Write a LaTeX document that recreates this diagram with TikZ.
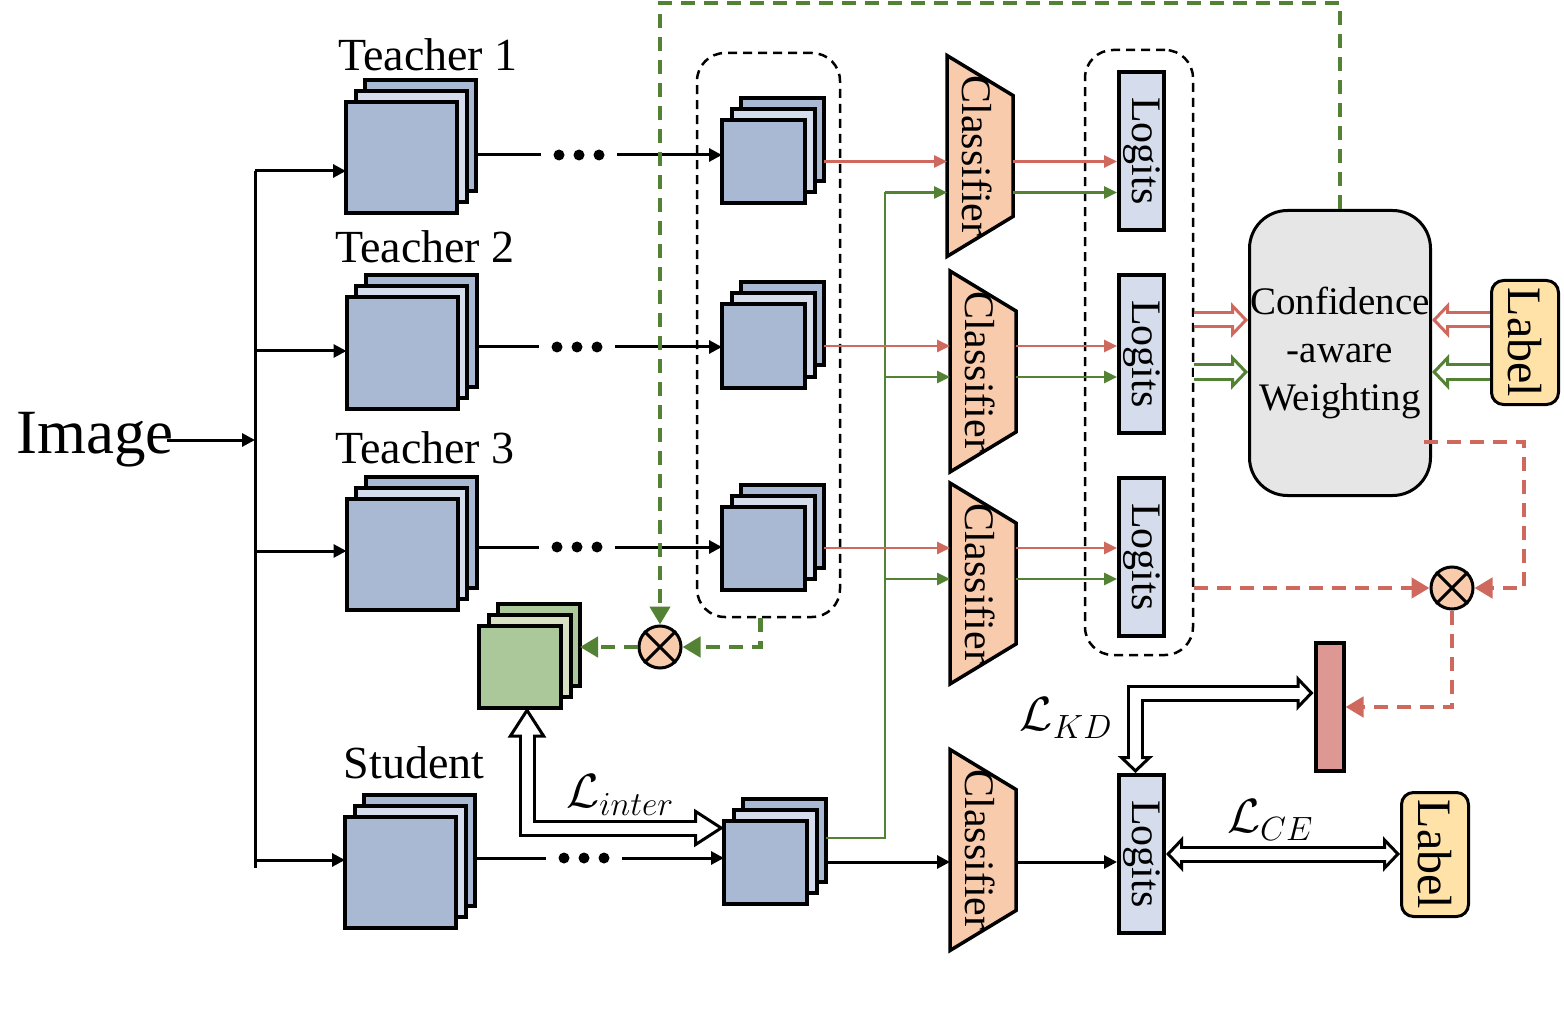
\documentclass[tikz,border=0pt]{standalone}
\usepackage{fix-cm}
\usepackage{fontspec}
\setmainfont{Liberation Serif}
\usetikzlibrary{arrows.meta, positioning, fit, calc}

\definecolor{featblue}{HTML}{A9B9D4}
\definecolor{featlight}{HTML}{D5DCEB}
\definecolor{featgreen}{HTML}{ABC89A}
\definecolor{greenlight}{HTML}{D8E1C3}
\definecolor{peach}{HTML}{F8CBAD}
\definecolor{labelyellow}{HTML}{FFE2A8}
\definecolor{boxgray}{HTML}{E6E6E6}
\definecolor{kdred}{HTML}{DD9893}
\definecolor{linered}{HTML}{D0695D}
\definecolor{linegreen}{HTML}{548235}

\newcommand{\sz}[1]{\fontsize{#1pt}{#1pt}\selectfont}

% stack of three feature maps: name, centre, size, colour, light colour
\newcommand{\fmap}[5]{%
  \node[fmapbox, minimum size=#3, fill=#4] (#1-b) at ($(#2)+(19,-22)$) {};
  \node[fmapbox, minimum size=#3, fill=#5] (#1-m) at ($(#2)+(9.5,-11)$) {};
  \node[fmapbox, minimum size=#3, fill=#4] (#1) at (#2) {};
}

% classifier trapezium: name, centre
\newcommand{\clsf}[2]{%
  \node[clsbox] (#1) at (#2) {};
  \draw[clsshape] (#1.north west) -- ([yshift=-40pt]#1.north east)
    -- ([yshift=40pt]#1.south east) -- (#1.south west) -- cycle;
  \node[font=\sz{42}, inner sep=0pt] at ([xshift=-3pt]#1.center) {\rotatebox{-90}{Classifier}};
}

% hollow arrow: options, cover options, path
\newcommand{\hollowdraw}[3]{%
  \draw[hollow, #1] #3;
  \draw[hollowcover, #2] #3;
}

\begin{document}
\begin{tikzpicture}[x=1pt, y=-1pt,
    fmapbox/.style={rectangle, draw, line width=4pt, inner sep=0pt, outer sep=0pt},
    clsbox/.style={rectangle, minimum width=66pt, minimum height=201pt, inner sep=0pt, outer sep=0pt},
    clsshape/.style={draw, line width=3.5pt, fill=peach},
    logit/.style={rectangle, draw, line width=4pt, fill=featlight, minimum width=45pt, minimum height=158pt, inner sep=0pt, font=\sz{42}},
    labelbox/.style={rectangle, draw, line width=3pt, fill=labelyellow, rounded corners=12pt, minimum width=67pt, minimum height=124pt, inner sep=0pt, font=\sz{48}},
    wbox/.style={rectangle, draw, line width=3pt, fill=boxgray, rounded corners=38pt, minimum width=181pt, minimum height=285pt, inner sep=0pt, align=center, font=\fontsize{39pt}{48pt}\selectfont},
    groupbox/.style={draw, line width=2.5pt, dash pattern=on 9pt off 6pt, rounded corners=28pt, inner sep=0pt},
    mult/.style={circle, draw, line width=3pt, fill=peach, minimum size=42pt, inner sep=0pt},
    dotrow/.style={minimum width=52pt, minimum height=14pt, inner sep=0pt, outer sep=12pt,
      path picture={\foreach \k in {-20,0,20}
        \fill ([xshift=\k pt]path picture bounding box.center) circle (5.5pt);}},
    arr/.style={-{Triangle[length=13pt, width=13pt]}, line width=3pt},
    rarr/.style={-{Triangle[length=13pt, width=12pt]}, line width=2.5pt, draw=linered},
    garr/.style={-{Triangle[length=13pt, width=12pt]}, line width=2.5pt, draw=linegreen},
    gdash/.style={-{Triangle[length=18pt, width=20pt]}, line width=4.5pt, draw=linegreen, dash pattern=on 14pt off 9pt},
    rdash/.style={-{Triangle[length=18pt, width=20pt]}, line width=4.5pt, draw=linered, dash pattern=on 14pt off 9pt},
    hollow/.style={line width=3pt, double=white, double distance=11pt},
    hollowcover/.style={draw=white, line width=11pt},
    bigtip/.tip={Triangle[open, length=30pt, width=38pt]},
    smalltip/.tip={Triangle[open, length=17pt, width=35pt]}
]
\useasboundingbox (0,0) rectangle (1564,1016);

% Backbones and features
\fmap{t1}{401.5,157.5}{111pt}{featblue}{featlight}
\fmap{t2}{402,353}{111pt}{featblue}{featlight}
\fmap{t3}{402,554}{111pt}{featblue}{featlight}
\fmap{st}{400.5,872}{111pt}{featblue}{featlight}
\fmap{f1}{763.5,161.5}{83pt}{featblue}{featlight}
\fmap{f2}{763.5,346}{83pt}{featblue}{featlight}
\fmap{f3}{763.5,548}{83pt}{featblue}{featlight}
\fmap{fs}{765.5,862}{83pt}{featblue}{featlight}
\fmap{g}{520,666.5}{82pt}{featgreen}{greenlight}

\node[font=\sz{63}] (img) at (95,440) {Image};
\node[font=\sz{46}] (lt1) at (428,55) {Teacher 1};
\node[font=\sz{46}] (lt2) at (425,247) {Teacher 2};
\node[font=\sz{46}] (lt3) at (425,448) {Teacher 3};
\node[font=\sz{46}] (lst) at (414,763) {Student};

\node[dotrow] (d1) at (579,155) {};
\node[dotrow] (d2) at (577,347) {};
\node[dotrow] (d3) at (577,547) {};
\node[dotrow] (ds) at (584,858) {};

\node[groupbox, fit={(697,53) (840,617)}] (fgrp) {};
\node[groupbox, fit={(1085,50) (1193,655)}] (lgrp) {};

% Classifiers and logits
\clsf{c1}{980,156}
\clsf{c2}{983,371.5}
\clsf{c3}{983,583.5}
\clsf{cs}{983,850}
\node[logit] (l1) at (1141.5,151) {\rotatebox{-90}{Logits}};
\node[logit] (l2) at (1141.5,354) {\rotatebox{-90}{Logits}};
\node[logit] (l3) at (1141.5,557) {\rotatebox{-90}{Logits}};
\node[logit] (ls) at (1141.5,854) {\rotatebox{-90}{Logits}};

\node[wbox] (wt) at (1340,353) {Confidence\\-aware\\Weighting};
\node[labelbox] (lab1) at (1525,342.5) {\rotatebox{-90}{Label}};
\node[labelbox] (lab2) at (1435,854.5) {\rotatebox{-90}{Label}};
\node[mult] (m1) at (660,647) {};
\node[mult] (m2) at (1452,588) {};
\foreach \m in {m1, m2}
  \draw[line width=3pt] (\m.north west) -- (\m.south east) (\m.north east) -- (\m.south west);
\node[rectangle, draw, line width=4pt, fill=kdred, minimum width=28pt, minimum height=128pt, inner sep=0pt] (kdbar) at (1329.5,707) {};

% Image to backbones
\coordinate (br1) at (255,171);
\coordinate (br2) at (255,351);
\coordinate (br3) at (255,551);
\coordinate (br4) at (255,860);
\coordinate (trunkend) at (255,868);
\draw[line width=3pt] (br1) -- (trunkend);
\draw[arr] ([xshift=-10pt]img.east) -- (img.east -| br1);
\foreach \b/\src in {br1/t1, br2/t2, br3/t3, br4/st}
  \draw[arr] (\b) -- (\b -| \src.west);
\foreach \dt/\src/\dst in {d1/t1/f1, d2/t2/f2, d3/t3/f3, ds/st/fs} {
  \draw[line width=3pt] (\dt -| \src-b.east) -- (\dt.west);
  \draw[arr] (\dt.east) -- (\dt -| \dst.west);
}

% Teacher features to logits
\coordinate (gbus) at (885,838);
\draw[line width=2.5pt, draw=linegreen] (gbus -| fs-b.east) -- (gbus) -- ($(f1 -| gbus)+(0,31)$);
\foreach \fa/\cl/\lo in {f1/c1/l1, f2/c2/l2, f3/c3/l3} {
  \draw[rarr] (\fa -| \fa-b.east) -- (\fa -| \cl.west);
  \draw[rarr] (\fa -| \cl.east) -- (\fa -| \lo.west);
  \draw[garr] ($(\fa -| gbus)+(0,31)$) -- ($(\fa -| \cl.west)+(0,31)$);
  \draw[garr] ($(\fa -| \cl.east)+(0,31)$) -- ($(\fa -| \lo.west)+(0,31)$);
}
\draw[arr] (fs -| fs-b.east) -- (fs -| cs.west);
\draw[arr] (fs -| cs.east) -- (fs -| ls.west);

% Weighting inputs
\coordinate (wr) at ($(wt.west)+(0,-33)$);
\coordinate (wg) at ($(wt.west)+(0,19)$);
\hollowdraw{draw=linered, -smalltip}{shorten >=11pt}{(wr -| lgrp.east) -- (wr)}
\hollowdraw{draw=linegreen, -smalltip}{shorten >=11pt}{(wg -| lgrp.east) -- (wg)}
\hollowdraw{draw=linered, -smalltip}{shorten >=11pt}{(wr -| lab1.west) -- (wr -| wt.east)}
\hollowdraw{draw=linegreen, -smalltip}{shorten >=11pt}{(wg -| lab1.west) -- (wg -| wt.east)}

% Weights
\coordinate (gtop) at (0,3);
\draw[gdash] (wt.north) -- (wt.north |- gtop) -| (m1.north);
\draw[gdash] ([xshift=-8pt]fgrp.south) |- (m1.east);
\draw[gdash] (m1.west) -- (m1.west -| g-b.east);
\draw[rdash] ($(wt.east)+(-8,89)$) -- ++(100,0) |- (m2.east);
\draw[rdash] (m2 -| lgrp.east) -- (m2.west);
\draw[rdash] (m2.south) |- (kdbar.east);

% Losses
\hollowdraw{bigtip-bigtip}{shorten <=24pt, shorten >=24pt}{([xshift=7pt]g.south) |- ($(fs.west)+(0,-34)$)}
\hollowdraw{smalltip-smalltip}{shorten <=11pt, shorten >=11pt}{($(kdbar.west)+(0,-14)$) -| ([xshift=-6pt]ls.north)}
\hollowdraw{smalltip-smalltip}{shorten <=11pt, shorten >=11pt}{(ls.east) -- (ls.east -| lab2.west)}
\node[font=\sz{48}] (linter) at (620,795) {$\mathcal{L}_{inter}$};
\node[font=\sz{48}] (lkd) at (1066,718) {$\mathcal{L}_{KD}$};
\node[font=\sz{48}] (lce) at (1270,820) {$\mathcal{L}_{CE}$};

\end{tikzpicture}
\end{document}
